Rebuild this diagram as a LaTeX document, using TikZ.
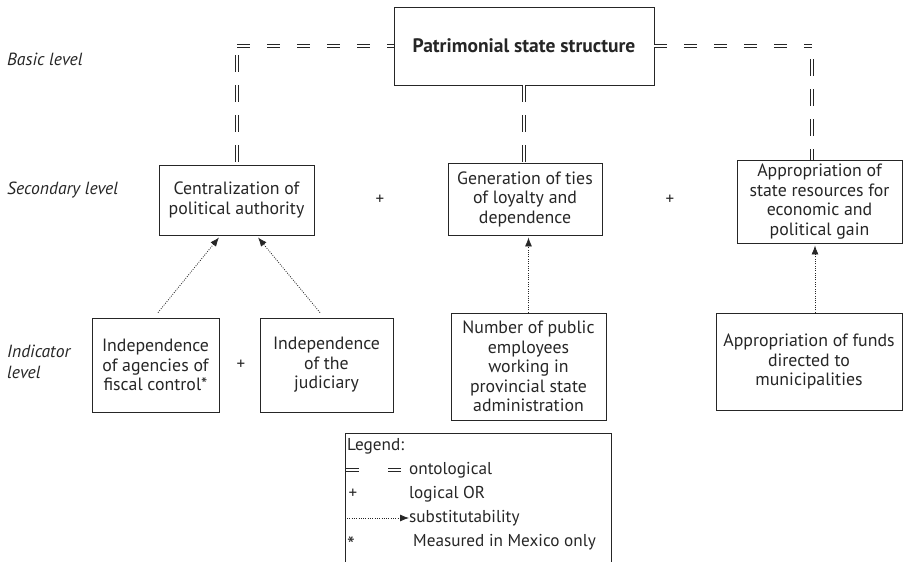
\documentclass[tikz,border=0pt]{standalone}
\usepackage{fontspec}
\setmainfont{PT Sans}
\usetikzlibrary{arrows.meta,calc}
\definecolor{ink}{HTML}{262626}
\begin{document}
\begin{tikzpicture}[x=1pt,y=-1pt,
  box/.style={draw=ink,line width=0.9pt,align=center,inner sep=0pt,text=ink,
    font=\fontsize{17.8}{19.5}\selectfont},
  lvl/.style={anchor=west,text=ink,inner sep=0pt,font=\fontsize{17.6}{20}\selectfont\itshape},
  plus/.style={text=ink,inner sep=0pt,font=\fontsize{17}{18}\selectfont},
  legtxt/.style={anchor=west,text=ink,inner sep=0pt,font=\fontsize{17.2}{18}\selectfont},
  onto/.style={draw=ink,double=white,double distance=2pt,line width=0.55pt},
  ontoh/.style={onto,dash pattern=on 13pt off 17pt},
  ontov/.style={onto,dash pattern=on 17pt off 13pt},
  subst/.style={draw=ink,line width=0.8pt,dash pattern=on 0.9pt off 1.4pt,
    -{Latex[length=9pt,width=7pt]}}
]
\useasboundingbox (0,0) rectangle (903,562);

% level labels
\node[lvl] (lbasic) at (7,59) {Basic level};
\node[lvl] (lsec) at (7,190) {Secondary level};
\node[lvl,align=left,font=\fontsize{17.6}{21}\selectfont\itshape] (lind) at (7,362) {Indicator\\level};

% basic level
\node[box,minimum width=260pt,minimum height=78pt,font=\fontsize{19.5}{22}\selectfont\bfseries]
  (top) at (524,46) {Patrimonial state structure};

% secondary level
\node[box,minimum width=155pt,minimum height=70pt] (cent) at (236.5,200)
  {Centralization of\\political authority};
\node[box,minimum width=154pt,minimum height=72pt] (gen) at (525,199)
  {Generation of ties\\of loyalty and\\dependence};
\node[box,minimum width=165pt,minimum height=83pt] (appr) at (819.5,201.5)
  {Appropriation of\\state resources for\\economic and\\political gain};
\node[plus] (p1) at (380,200) {+};
\node[plus] (p2) at (670,200) {+};

% indicator level
\node[box,minimum width=127pt,minimum height=94pt] (agen) at (155.5,365)
  {Independence\\of agencies of\\fiscal control*};
\node[box,minimum width=133pt,minimum height=94pt] (jud) at (326.5,365)
  {Independence\\of the\\judiciary};
\node[plus] (p3) at (241,365) {+};
\node[box,minimum width=155pt,minimum height=107pt] (num) at (528.5,366.5)
  {Number of public\\employees\\working in\\provincial state\\administration};
\node[box,minimum width=186pt,minimum height=97pt] (funds) at (809,361.5)
  {Appropriation of funds\\directed to\\municipalities};

% ontological links, drawn leg by leg so that no dash bends round a corner
\coordinate (lc) at (237,46);
\coordinate (rc) at (812,46);
\draw[ontoh] (lc) -- (top.west);
\draw[ontov,dash phase=21pt] (lc) -- (lc |- cent.north);
\draw[ontoh] (top.east) -- (rc);
\draw[ontov,dash phase=17pt] (rc) -- (rc |- appr.north);
\draw[ontov] (top.south) -- (top.south |- gen.north);

% substitutability links
\draw[subst] ($(agen.north)+(2.5,-5)$) -- ($(cent.south)+(-17.5,2)$);
\draw[subst] ($(jud.north)+(-6.5,-5)$) -- ($(cent.south)+(21.5,2)$);
\draw[subst,shorten >=2pt] (num.north) -- (num.north |- gen.south);
\coordinate (fa) at ($(funds.north)+(6,0)$);
\draw[subst,shorten >=2pt] (fa) -- (fa |- appr.south);

% legend
\draw[draw=ink,line width=0.9pt] (345,566) -- (345,433) -- (611,433) -- (611,566);
\node[legtxt] (lhead) at (347,446) {Legend:};
\coordinate (o1) at (346,470);
\coordinate (o2) at (401,470);
\draw[onto,dash pattern=on 13pt off 29pt] (o1) -- (o2);
\node[legtxt] (lonto) at (409,470) {ontological};
\node[plus] (lplus) at (353,494) {+};
\node[legtxt] (lor) at (409,494) {logical OR};
\coordinate (s1) at (347,518);
\coordinate (s2) at (409,518);
\draw[subst] (s1) -- (s2);
\node[legtxt] (lsub) at (409,518) {substitutability};
\node[plus,font=\fontsize{22}{22}\selectfont] (lstar) at (351,545) {*};
\node[legtxt] (lmex) at (413,542) {Measured in Mexico only};
\end{tikzpicture}
\end{document}
